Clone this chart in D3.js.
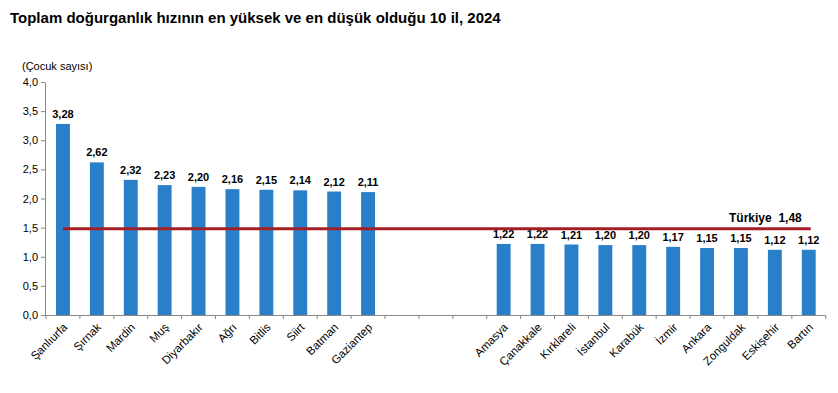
<!DOCTYPE html>
<html><head><meta charset="utf-8">
<script src="https://cdn.jsdelivr.net/npm/d3@7"></script>
<style>body{margin:0;background:#fff;}svg{display:block;font-family:"Liberation Sans",Arial,sans-serif;}</style>
</head><body>
<script>
const highCities = ["Şanlıurfa","Şırnak","Mardin","Muş","Diyarbakır","Ağrı","Bitlis","Siirt","Batman","Gaziantep"];
const highValues = [3.28,2.62,2.32,2.23,2.20,2.16,2.15,2.14,2.12,2.11];
const lowCities = ["Amasya","Çanakkale","Kırklareli","İstanbul","Karabük","İzmir","Ankara","Zonguldak","Eskişehir","Bartın"];
const lowValues = [1.22,1.22,1.21,1.20,1.20,1.17,1.15,1.15,1.12,1.12];
const gapSlots = ["_g1","_g2","_g3"];
const turkiyeValue = 1.48;
const yTicks = [0,0.5,1,1.5,2,2.5,3,3.5,4];
const title = "Toplam doğurganlık hızının en yüksek ve en düşük olduğu 10 il, 2024";
const yUnit = "(Çocuk sayısı)";

const W=838,H=393;
const m={left:45,right:12,top:82,bottom:78};
const svg=d3.select("body").append("svg").attr("width",W).attr("height",H);
const data=[...highCities.map((c,i)=>({c,v:highValues[i]})),...gapSlots.map(c=>({c,v:null})),...lowCities.map((c,i)=>({c,v:lowValues[i]}))];
const x=d3.scaleBand().domain(data.map(d=>d.c)).range([m.left+1,m.left+1+23*33.9]).paddingInner(0.59).paddingOuter(0.295);
const y=d3.scaleLinear().domain([0,4]).range([H-m.bottom,m.top]);
const fmt=d=>d3.format(".2f")(d).replace(".",",");
const fmt1=d=>d3.format(".1f")(d).replace(".",",");

svg.append("text").attr("x",10).attr("y",23).attr("font-size",15).attr("font-weight","bold").attr("fill","#000").text(title);
svg.append("text").attr("x",22).attr("y",70).attr("font-size",11).attr("fill","#000").text(yUnit);

const yA=svg.append("g").attr("transform",`translate(${m.left},0)`).call(d3.axisLeft(y).tickValues(yTicks).tickFormat(fmt1).tickSize(4).tickSizeOuter(0));
yA.select(".domain").attr("stroke","#898989");
yA.selectAll(".tick line").attr("stroke","#898989");
yA.selectAll("text").attr("font-size",11).attr("fill","#000").attr("font-family","Liberation Sans, Arial, sans-serif").attr("x",-7);

// bars
svg.append("g").selectAll("rect").data(data.filter(d=>d.v!==null)).join("rect")
 .attr("x",d=>x(d.c)).attr("width",x.bandwidth()).attr("y",d=>y(d.v)).attr("height",d=>y(0)-y(d.v))
 .attr("fill","#2a80c8");

// x axis
const x0=m.left, x1=m.left+1+23*33.9;
const xg=svg.append("g");
xg.append("line").attr("x1",x0).attr("x2",x1).attr("y1",y(0)+0.5).attr("y2",y(0)+0.5).attr("stroke","#898989");
const step=x.step();
const bounds=d3.range(24).map(i=>x.range()[0]+i*step);
xg.selectAll("line.t").data(bounds).join("line").attr("class","t").attr("x1",d=>d).attr("x2",d=>d).attr("y1",y(0)).attr("y2",y(0)+4).attr("stroke","#898989");
xg.selectAll("text").data(data.filter(d=>d.v!==null)).join("text")
 .attr("transform",d=>`translate(${x(d.c)+x.bandwidth()/2+5},${y(0)+13}) rotate(-45)`)
 .attr("text-anchor","end").attr("font-size",11.5).attr("fill","#000").text(d=>d.c);

// value labels
svg.append("g").selectAll("text").data(data.filter(d=>d.v!==null)).join("text")
 .attr("x",d=>x(d.c)+x.bandwidth()/2).attr("y",d=>y(d.v)-6).attr("text-anchor","middle")
 .attr("font-size",11).attr("font-weight","bold").attr("fill","#000").text(d=>fmt(d.v));

// Türkiye line
const firstC=x(highCities[0])+x.bandwidth()/2, lastC=x(lowCities[lowCities.length-1])+x.bandwidth()/2;
svg.append("line").attr("x1",firstC).attr("x2",lastC+2).attr("y1",y(turkiyeValue)).attr("y2",y(turkiyeValue)).attr("stroke","#a31f24").attr("stroke-width",3);
svg.append("text").attr("x",lastC-7).attr("y",y(turkiyeValue)-7).attr("text-anchor","end").attr("font-size",12).attr("font-weight","bold").attr("fill","#000").attr("xml:space","preserve").text("Türkiye  "+fmt(turkiyeValue));
</script>
</body></html>
